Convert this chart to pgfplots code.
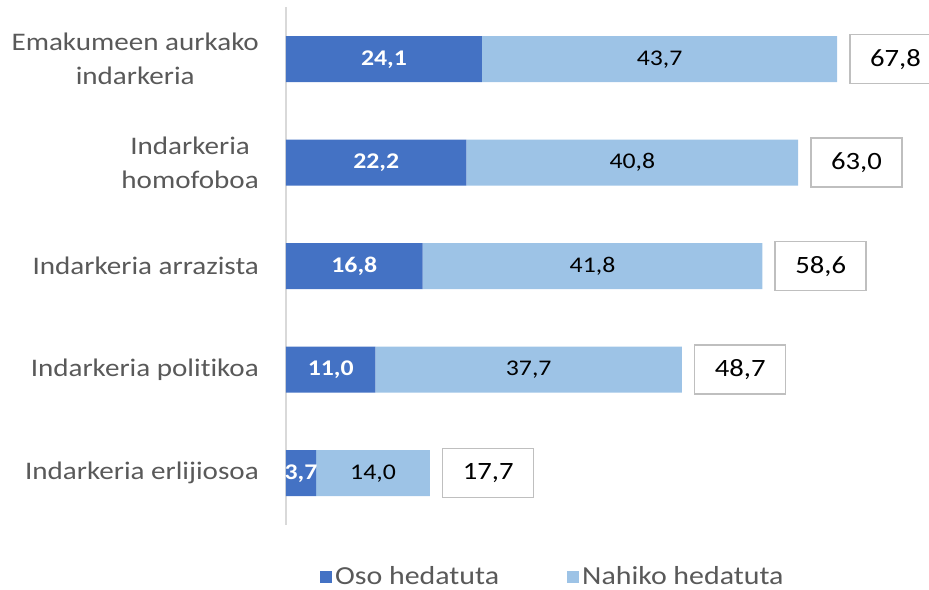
\documentclass[border=0pt]{standalone}
\usepackage{fontspec}
\setmainfont{Carlito}[FakeStretch=1.15, Ligatures=NoCommon]
\usepackage{pgfplots}
\pgfplotsset{compat=1.18}
\usepackage{pgfplotstable}
\definecolor{oso}{HTML}{4472C4}
\definecolor{nahiko}{HTML}{9DC3E6}
\definecolor{txtgray}{HTML}{595959}
\definecolor{boxgray}{HTML}{BFBFBF}
\definecolor{axisgray}{HTML}{D9D9D9}

% y = category position (0 = bottom)
\pgfplotstableread{
y  oso   nahiko  total
0  3.7   14.0    17.7
1  11.0  37.7    48.7
2  16.8  41.8    58.6
3  22.2  40.8    63.0
4  24.1  43.7    67.8
}\datatable

\newcommand{\num}[1]{\pgfmathprintnumber[fixed,fixed zerofill,precision=1,use comma,assume math mode=true]{#1}}

\pgfplotsset{commonax/.style={
  x=8.13pt, y=103.5pt,
  xmin=0, xmax=72, ymin=-0.5, ymax=4.5,
  bar width=46pt,
  clip=false,
  at={(0,0)}, anchor=south west,
}}

\begin{document}
\begin{tikzpicture}
\path[use as bounding box] (-286pt,-64pt) rectangle (643pt,525pt);
\begin{axis}[
  commonax,
  xbar stacked,
  axis x line=none,
  axis y line*=left,
  y axis line style={draw=axisgray, line width=1.5pt},
  ytick={0,...,4},
  yticklabels={Indarkeria erlijiosoa, Indarkeria politikoa, Indarkeria arrazista,
    {Indarkeria\\[4pt]homofoboa}, {Emakumeen aurkako\\[4pt]indarkeria}},
  yticklabel style={align=center, text=txtgray,
    font=\fontsize{25.3}{30}\selectfont, inner sep=0pt, xshift=-27pt},
  major tick length=0pt,
  legend style={at={(axis description cs:0.058,-0.099)}, anchor=west,
    draw=none, fill=none, text=txtgray, inner sep=0pt,
    font=\fontsize{26}{30}\selectfont,
    legend columns=2,
    /tikz/every even column/.append style={column sep=65pt},
    nodes={inner xsep=3pt, inner ysep=0pt}},
  legend image code/.code={\fill[#1] (0pt,-6.5pt) rectangle (12pt,5.5pt);},
]
% Oso hedatuta
\addplot[fill=oso, draw=none, forget plot,
  nodes near coords={\textbf{\num{\pgfplotspointmeta}}},
  point meta=explicit,
  every node near coord/.append style={anchor=center, text=white,
    font=\fontsize{22.4}{26}\selectfont}]
  table[x=oso, y=y, meta=oso]{\datatable};
% Nahiko hedatuta
\addplot[fill=nahiko, draw=none, forget plot,
  nodes near coords={\num{\pgfplotspointmeta}},
  point meta=explicit,
  every node near coord/.append style={anchor=center, text=black,
    font=\fontsize{22.4}{26}\selectfont}]
  table[x=nahiko, y=y, meta=nahiko]{\datatable};
\addlegendimage{fill=oso, draw=none}
\addlegendentry{Oso hedatuta}
\addlegendimage{fill=nahiko, draw=none}
\addlegendentry{Nahiko hedatuta}
\end{axis}
% totals in boxes
\begin{axis}[
  commonax,
  xbar,
  hide axis,
]
\addplot[fill=none, draw=none,
  nodes near coords={\num{\pgfplotspointmeta}},
  point meta=explicit,
  every node near coord/.append style={anchor=west, xshift=12pt,
    draw=boxgray, line width=1.5pt, fill=white, text=black,
    minimum width=91pt, minimum height=49pt,
    font=\fontsize{24.9}{28}\selectfont}]
  table[x=total, y=y, meta=total]{\datatable};
\end{axis}
\end{tikzpicture}
\end{document}
